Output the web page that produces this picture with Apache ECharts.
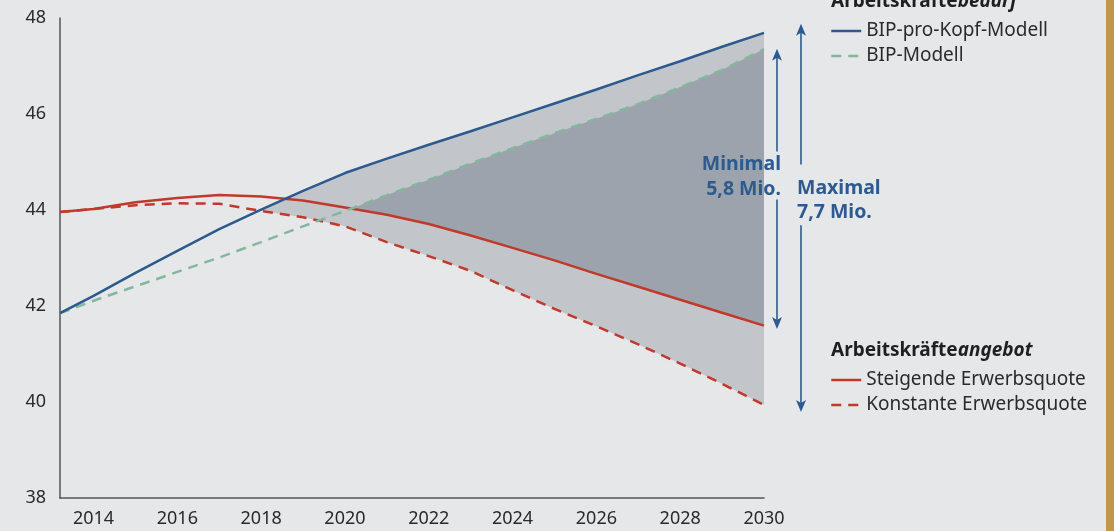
<!DOCTYPE html>
<html><head><meta charset="utf-8">
<script src="https://cdn.jsdelivr.net/npm/echarts@6/dist/echarts.min.js"></script>
<style>html,body{margin:0;padding:0;background:#e6e7e9;}#c{width:1114px;height:531px;}</style>
</head><body><div id="c"></div>
<script>
const years       = [2013.2, 2014, 2015, 2016, 2017, 2018, 2019, 2020, 2021, 2022, 2023, 2024, 2025, 2026, 2027, 2028, 2029, 2030];
const bipProKopf  = [41.85, 42.21, 42.69, 43.15, 43.60, 44.01, 44.40, 44.77, 45.07, 45.36, 45.64, 45.93, 46.22, 46.51, 46.81, 47.10, 47.40, 47.69];
const bipModell   = [41.85, 42.11, 42.41, 42.71, 43.01, 43.33, 43.66, 43.98, 44.31, 44.63, 44.97, 45.29, 45.60, 45.90, 46.21, 46.56, 46.92, 47.35];
const steigende   = [43.96, 44.02, 44.16, 44.25, 44.31, 44.28, 44.20, 44.05, 43.90, 43.71, 43.47, 43.21, 42.95, 42.67, 42.40, 42.13, 41.86, 41.59];
const konstante   = [43.96, 44.02, 44.10, 44.14, 44.13, 43.98, 43.85, 43.66, 43.33, 43.04, 42.73, 42.33, 41.94, 41.58, 41.20, 40.80, 40.38, 39.94];
const xTickLabels = [2014, 2016, 2018, 2020, 2022, 2024, 2026, 2028, 2030];
const yTicks      = [38, 40, 42, 44, 46, 48];
const nameProKopf = 'BIP-pro-Kopf-Modell';
const nameModell  = 'BIP-Modell';
const nameSteig   = 'Steigende Erwerbsquote';
const nameKonst   = 'Konstante Erwerbsquote';
// annotation values (data units)
const minimalArrow = {top: 47.36, bottom: 41.52, gapTop: 45.22, gapBottom: 44.22};
const maximalArrow = {top: 47.88, bottom: 39.79, gapTop: 44.95, gapBottom: 43.68};
const minimalText = 'Minimal\n5,8 Mio.';
const maximalText = 'Maximal\n7,7 Mio.';

const FONT = 'Noto Sans';
const BLUE = '#2c5a8e', GREEN = '#84b79c', RED = '#c0392b', ANN = '#2d5b8f';

function pts(arr){ return years.map((x,i)=>[x, arr[i]]); }

function bandRender(upper, lower, color){
  return function(params, api){
    let start = -1, sp = null;
    for (let i = 1; i < years.length; i++) {
      const d0 = upper[i-1]-lower[i-1], d1 = upper[i]-lower[i];
      if (d0 <= 0 && d1 > 0) {
        const t = d0/(d0-d1);
        sp = [years[i-1]+t*(years[i]-years[i-1]), lower[i-1]+t*(lower[i]-lower[i-1])];
        start = i; break;
      }
    }
    const p = [api.coord(sp)];
    for (let i = start; i < years.length; i++) p.push(api.coord([years[i], upper[i]]));
    for (let i = years.length-1; i >= start; i--) p.push(api.coord([years[i], lower[i]]));
    return {type:'polygon', shape:{points:p}, style:{fill:color}, silent:true};
  };
}

const chart = echarts.init(document.getElementById('c'), null, {renderer:'canvas'});
const legendText = {fontSize:19, color:'#2a2a2a', fontFamily:FONT, lineHeight:20};
const legendCommon = {orient:'vertical', left:830, padding:0, itemWidth:30, itemHeight:14, itemGap:5, textStyle:legendText, selectedMode:false, itemStyle:{opacity:0}, lineStyle:{width:2.5}};
chart.setOption({
  backgroundColor:'#e6e7e9',
  animation:false,
  grid:{left:60, right:350, top:18, bottom:33, outerBoundsMode:'none'},
  xAxis:{type:'value', min:years[0], max:years[years.length-1],
    axisLine:{show:true, lineStyle:{color:'#555', width:1.5}},
    axisTick:{show:false}, splitLine:{show:false},
    axisLabel:{customValues:xTickLabels, formatter:v=>String(v), fontSize:18, color:'#2a2a2a', fontFamily:FONT, margin:12}},
  yAxis:{type:'value', min:yTicks[0], max:yTicks[yTicks.length-1], interval:2,
    axisLine:{show:true, lineStyle:{color:'#555', width:1.5}},
    axisTick:{show:false}, splitLine:{show:false},
    axisLabel:{fontSize:18, color:'#2a2a2a', fontFamily:FONT, margin:14}},
  legend:[
    Object.assign({data:[nameProKopf, nameModell], top:21}, legendCommon),
    Object.assign({data:[nameSteig, nameKonst], top:370}, legendCommon)
  ],
  series:[
    {type:'custom', name:'bandMax', renderItem:bandRender(bipProKopf, konstante, '#c2c6cb'), data:[[2030,44]], z:1, silent:true},
    {type:'custom', name:'bandMin', renderItem:bandRender(bipModell, steigende, '#9ca3ac'), data:[[2030,44]], z:2, silent:true},
    {type:'line', name:nameSteig, data:pts(steigende), symbol:'none', z:5, lineStyle:{color:RED, width:2.5}, itemStyle:{color:RED}},
    {type:'line', name:nameKonst, data:pts(konstante), symbol:'none', z:5, lineStyle:{color:RED, width:2.5, type:[10,7]}, itemStyle:{color:RED}},
    {type:'line', name:nameModell, data:pts(bipModell), symbol:'none', z:5, lineStyle:{color:GREEN, width:2.5, type:[10,7]}, itemStyle:{color:GREEN}},
    {type:'line', name:nameProKopf, data:pts(bipProKopf), symbol:'none', z:6, lineStyle:{color:BLUE, width:2.5}, itemStyle:{color:BLUE}}
  ]
});

function px(x, y){ return chart.convertToPixel({gridIndex:0}, [x, y]); }
function arrow(xOff, a){
  const xe = years[years.length-1];
  const x = px(xe, 44)[0] + xOff;
  const yT = px(xe, a.top)[1], yB = px(xe, a.bottom)[1];
  const gT = px(xe, a.gapTop)[1], gB = px(xe, a.gapBottom)[1];
  const st = {stroke:ANN, lineWidth:1.6};
  return [
    {type:'line', z:100, shape:{x1:x, y1:yT+8, x2:x, y2:gT}, style:st},
    {type:'line', z:100, shape:{x1:x, y1:gB, x2:x, y2:yB-8}, style:st},
    {type:'polygon', z:100, shape:{points:[[x, yT],[x-5, yT+12],[x, yT+9],[x+5, yT+12]]}, style:{fill:ANN}},
    {type:'polygon', z:100, shape:{points:[[x, yB],[x-5, yB-12],[x, yB-9],[x+5, yB-12]]}, style:{fill:ANN}}
  ];
}
const xEndPx = px(years[years.length-1], 44)[0];
const g = [].concat(arrow(13, minimalArrow), arrow(37, maximalArrow));
g.push({type:'text', z:100, x:xEndPx+17, y:px(2030, 44.68)[1], style:{text:minimalText, fill:ANN, font:'bold 19.5px "'+FONT+'"', align:'right', verticalAlign:'middle', lineHeight:25}});
g.push({type:'text', z:100, x:xEndPx+33, y:px(2030, 44.19)[1], style:{text:maximalText, fill:ANN, font:'bold 19.5px "'+FONT+'"', align:'left', verticalAlign:'middle', lineHeight:24}});
const rich = {a:{fontWeight:'bold', fontSize:19, fontFamily:FONT, fill:'#1f1f1f'}, b:{fontWeight:'bold', fontStyle:'italic', fontSize:19, fontFamily:FONT, fill:'#1f1f1f'}};
g.push({type:'text', z:100, x:831, y:2, style:{text:'{a|Arbeitskräfte}{b|bedarf}', rich:rich, verticalAlign:'middle'}});
g.push({type:'text', z:100, x:831, y:351, style:{text:'{a|Arbeitskräfte}{b|angebot}', rich:rich, verticalAlign:'middle'}});
g.push({type:'rect', z:100, shape:{x:1106, y:0, width:8, height:531}, style:{fill:'#c2974c'}});
chart.setOption({graphic:g});
</script>
</body></html>
